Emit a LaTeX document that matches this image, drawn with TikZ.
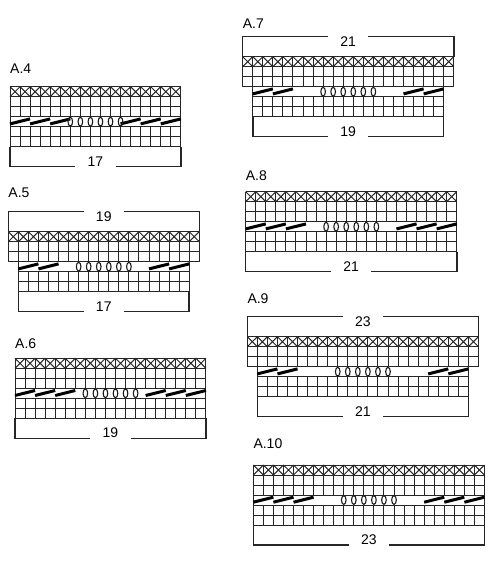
\documentclass[tikz,border=0pt]{standalone}
\usepackage{fontspec}
\setmainfont{Liberation Sans}
\tikzset{
  cellline/.style={line width=1pt, black!85},
  kdecrease/.style={line width=3pt, black},
  yarnover/.style={line width=1.1pt, black!90},
  bracket/.style={line width=1.5pt, black!85},
  countlabel/.style={inner sep=0pt, minimum width=40pt, font=\fontsize{14}{16}\selectfont},
  charttitle/.style={inner sep=0pt, font=\fontsize{14}{16}\selectfont}
}
% #1 chart no., #2 top left corner, #3 sts at top, #4 sts at bottom,
% #5 decreases each side, #6 top bracket (1/0), #7 height of title
\newcommand{\knitchart}[7]{%
  \begin{scope}[shift={#2}, x=10.05pt, y=-10pt]
    \pgfmathtruncatemacro{\chL}{(#3-#4)/2}
    \pgfmathtruncatemacro{\chR}{\chL+#4}
    \pgfmathsetmacro{\chM}{#3/2}
    \node[charttitle, anchor=base west] (A#1) at (0,#7) {A.#1};
    % cross row + 2 plain rows
    \foreach \i in {0,...,#3} \draw[cellline] (\i,0) -- (\i,3);
    \foreach \j in {0,...,3} \draw[cellline] (0,\j) -- (#3,\j);
    \foreach \i in {1,...,#3} \draw[cellline] (\i-1,0) -- (\i,1) (\i,0) -- (\i-1,1);
    % pattern row, then 2 plain rows
    \draw[cellline] (\chL,3) -- (\chL,4) (\chR,3) -- (\chR,4);
    \foreach \i in {\chL,...,\chR} \draw[cellline] (\i,4) -- (\i,6);
    \foreach \j in {4,5,6} \draw[cellline] (\chL,\j) -- (\chR,\j);
    \foreach \k in {1,...,#5} {
      \draw[kdecrease] (\chL+2*\k-2,3.72) -- (\chL+2*\k,3.22);
      \draw[kdecrease] (\chR-2*\k,3.72) -- (\chR-2*\k+2,3.22);
    }
    \foreach \m in {0,...,5}
      \draw[yarnover] (\chL+#4/2-2.5+\m,3.5) ellipse [x radius=2.3pt, y radius=4.4pt];
    % stitch counts
    \node[countlabel, anchor=south] (A#1-bot) at (\chM,8) {#4};
    \draw[bracket] (A#1-bot.south west) -- (\chL,8) -- (\chL,6);
    \draw[bracket] (A#1-bot.south east) -- (\chR,8) -- (\chR,6);
    \ifnum#6=1
      \node[countlabel, anchor=north] (A#1-top) at (\chM,-2) {#3};
      \draw[bracket] (A#1-top.north west) -- (0,-2) -- (0,0);
      \draw[bracket] (A#1-top.north east) -- (#3,-2) -- (#3,0);
    \fi
  \end{scope}}
\begin{document}
\begin{tikzpicture}[x=1pt, y=-1pt]
  \useasboundingbox (0,0) rectangle (500,562);
  \knitchart{4}{(10,86.7)}{17}{17}{3}{0}{-1.37}
  \knitchart{5}{(8.3,231.7)}{19}{17}{2}{1}{-3.47}
  \knitchart{6}{(15,358.3)}{19}{19}{3}{0}{-1.03}
  \knitchart{7}{(242.7,56.7)}{21}{19}{2}{1}{-2.87}
  \knitchart{8}{(245.7,191.7)}{21}{21}{3}{0}{-1.17}
  \knitchart{9}{(247.3,336.7)}{23}{21}{2}{1}{-3.37}
  \knitchart{10}{(253.3,465)}{23}{23}{3}{0}{-1.7}
\end{tikzpicture}
\end{document}
